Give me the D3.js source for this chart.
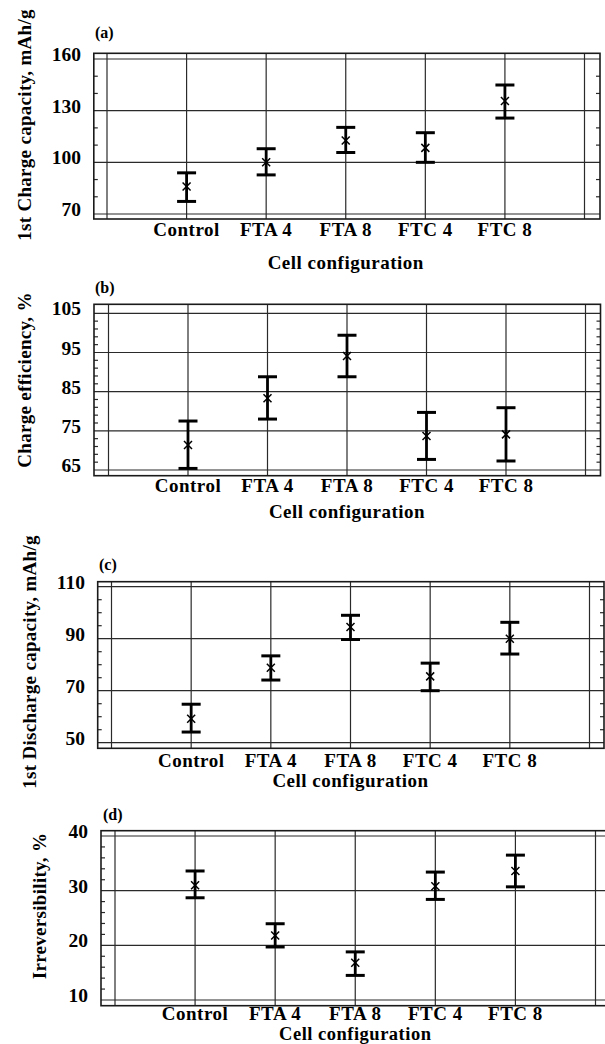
<!DOCTYPE html>
<html><head><meta charset="utf-8">
<script src="https://cdn.jsdelivr.net/npm/d3@7"></script>
<style>
body{margin:0;background:#fff}
text{font-family:"Liberation Serif","Times New Roman",serif;font-weight:bold;fill:#000}
</style></head>
<body><svg id="chart" width="605" height="1044"></svg>
<script>
// ---- data ----
const categories = ["Control", "FTA 4", "FTA 8", "FTC 4", "FTC 8"];

// (a) 1st Charge capacity, mAh/g
const chargeCapMean = [86, 100, 112.7, 108.4, 135.6];
const chargeCapLow  = [77.3, 92.7, 105.7, 100, 125.7];
const chargeCapHigh = [93.9, 107.9, 120.3, 117.2, 144.9];
const chargeCapTicks = [70, 100, 130, 160];

// (b) Charge efficiency, %
const chargeEffMean = [71.4, 83.3, 94.1, 73.7, 74.1];
const chargeEffLow  = [65.4, 78.0, 88.8, 67.7, 67.3];
const chargeEffHigh = [77.5, 88.8, 99.4, 79.7, 80.9];
const chargeEffTicks = [65, 75, 85, 95, 105];

// (c) 1st Discharge capacity, mAh/g
const dischargeCapMean = [59.2, 78.8, 94.5, 75.5, 90];
const dischargeCapLow  = [54.1, 74.1, 89.7, 70, 84.1];
const dischargeCapHigh = [64.8, 83.4, 99.0, 80.6, 96.3];
const dischargeCapTicks = [50, 70, 90, 110];

// (d) Irreversibility, %
const irrevMean = [31.0, 21.8, 16.8, 30.8, 33.6];
const irrevLow  = [28.7, 19.7, 14.5, 28.4, 30.7];
const irrevHigh = [33.6, 23.95, 18.8, 33.4, 36.5];
const irrevTicks = [10, 20, 30, 40];

const xTitle = "Cell configuration";

// ---- layout (positions only) ----
const panels = [
  {tag:"(a)", title:"1st Charge capacity, mAh/g", mean:chargeCapMean, low:chargeCapLow, high:chargeCapHigh,
   ticks:chargeCapTicks, minor:10,
   frameL:93.8, frameR:600, frameT:53.3, frameB:219, innerL:107, innerR:584.5, yTop:59, yBot:214,
   labelX:81, catY:236, titleY:268.5, titleSize:19, ytX:31, ytY:125, tagX:95, tagY:38},
  {tag:"(b)", title:"Charge efficiency, %", mean:chargeEffMean, low:chargeEffLow, high:chargeEffHigh,
   ticks:chargeEffTicks, minor:2,
   frameL:94, frameR:600.5, frameT:304.3, frameB:475.7, innerL:108.5, innerR:585.5, yTop:313.3, yBot:470,
   labelX:81, catY:491.5, titleY:517.5, titleSize:19, ytX:31, ytY:380, tagX:95, tagY:293},
  {tag:"(c)", title:"1st Discharge capacity, mAh/g", mean:dischargeCapMean, low:dischargeCapLow, high:dischargeCapHigh,
   ticks:dischargeCapTicks, minor:5,
   frameL:97.7, frameR:604, frameT:581.7, frameB:748.3, innerL:111.5, innerR:589.5, yTop:586.7, yBot:742.7,
   labelX:85, catY:767, titleY:787, titleSize:19, ytX:36, ytY:662, tagX:99, tagY:570},
  {tag:"(d)", title:"Irreversibility, %", mean:irrevMean, low:irrevLow, high:irrevHigh,
   ticks:irrevTicks, minor:2,
   frameL:101, frameR:609, frameT:830.7, frameB:1005.7, innerL:115, innerR:595.5, yTop:836, yBot:1000,
   labelX:88, catY:1019.5, titleY:1040, titleSize:18.5, ytX:46, ytY:906, tagX:103, tagY:820}
];

const svg = d3.select("#chart");
const lineCol = "#2a2a2a";

panels.forEach(p => {
  const g = svg.append("g");
  const dom = ["__l", ...categories, "__r"];
  const x = d3.scalePoint().domain(dom).range([p.innerL, p.innerR]);
  const lo = p.ticks[0], hi = p.ticks[p.ticks.length - 1];
  const y = d3.scaleLinear().domain([lo, hi]).range([p.yBot, p.yTop]);

  // horizontal gridlines
  g.selectAll(".hg").data(p.ticks).join("line")
    .attr("x1", p.frameL).attr("x2", p.frameR)
    .attr("y1", d => y(d)).attr("y2", d => y(d))
    .attr("stroke", lineCol).attr("stroke-width", 1.2);

  // vertical lines
  g.selectAll(".vg").data(dom).join("line")
    .attr("x1", d => x(d)).attr("x2", d => x(d))
    .attr("y1", p.frameT).attr("y2", p.frameB)
    .attr("stroke", lineCol).attr("stroke-width", 1.2);

  // minor ticks
  const minors = d3.range(lo, hi + 1e-6, p.minor).filter(v => !p.ticks.includes(v));
  g.selectAll(".ml").data(minors).join("line")
    .attr("x1", p.frameL).attr("x2", p.frameL + 4)
    .attr("y1", d => y(d)).attr("y2", d => y(d))
    .attr("stroke", lineCol).attr("stroke-width", 1.2);
  g.selectAll(".mr").data(minors).join("line")
    .attr("x1", p.frameR - 4).attr("x2", p.frameR)
    .attr("y1", d => y(d)).attr("y2", d => y(d))
    .attr("stroke", lineCol).attr("stroke-width", 1.2);

  // frame
  g.append("rect")
    .attr("x", p.frameL).attr("y", p.frameT)
    .attr("width", p.frameR - p.frameL).attr("height", p.frameB - p.frameT)
    .attr("fill", "none").attr("stroke", "#1a1a1a").attr("stroke-width", 1.6);

  // y tick labels via axis
  const ax = g.append("g").attr("transform", `translate(${p.labelX},0)`)
    .call(d3.axisLeft(y).tickValues(p.ticks).tickSize(0).tickPadding(0).tickFormat(d3.format("d")));
  ax.select(".domain").remove();
  ax.selectAll("text").attr("font-size", 19.5).attr("dy", "0.08em")
    .style("font-family", '"Liberation Serif","Times New Roman",serif').style("font-weight", "bold").attr("fill", "#000");

  // category labels
  g.selectAll(".cl").data(categories).join("text")
    .attr("x", d => x(d)).attr("y", p.catY)
    .attr("text-anchor", "middle").attr("font-size", 19).attr("letter-spacing", "0.5px")
    .text(d => d);

  // x title
  g.append("text").attr("x", (p.innerL + p.innerR) / 2).attr("y", p.titleY)
    .attr("text-anchor", "middle").attr("font-size", p.titleSize).attr("letter-spacing", "0.5px")
    .text(xTitle);

  // y title
  g.append("text").attr("transform", `translate(${p.ytX},${p.ytY}) rotate(-90)`)
    .attr("text-anchor", "middle").attr("font-size", 19).attr("letter-spacing", "0.3px")
    .text(p.title);

  // tag
  g.append("text").attr("x", p.tagX).attr("y", p.tagY).attr("font-size", 16).text(p.tag);

  // error bars
  const eb = g.selectAll(".eb").data(categories).join("g");
  eb.append("line")
    .attr("x1", d => x(d)).attr("x2", d => x(d))
    .attr("y1", (d, i) => y(p.low[i])).attr("y2", (d, i) => y(p.high[i]))
    .attr("stroke", "#000").attr("stroke-width", 2.8);
  ["low", "high"].forEach(k => {
    eb.append("line")
      .attr("x1", d => x(d) - 9.5).attr("x2", d => x(d) + 9.5)
      .attr("y1", (d, i) => y(p[k][i])).attr("y2", (d, i) => y(p[k][i]))
      .attr("stroke", "#000").attr("stroke-width", 3);
  });
  // markers (x)
  eb.append("path")
    .attr("d", (d, i) => {
      const cx = x(d), cy = y(p.mean[i]), s = 4;
      return `M${cx - s},${cy - s}L${cx + s},${cy + s}M${cx - s},${cy + s}L${cx + s},${cy - s}`;
    })
    .attr("stroke", "#000").attr("stroke-width", 1.5).attr("fill", "none");
});
</script></body></html>
